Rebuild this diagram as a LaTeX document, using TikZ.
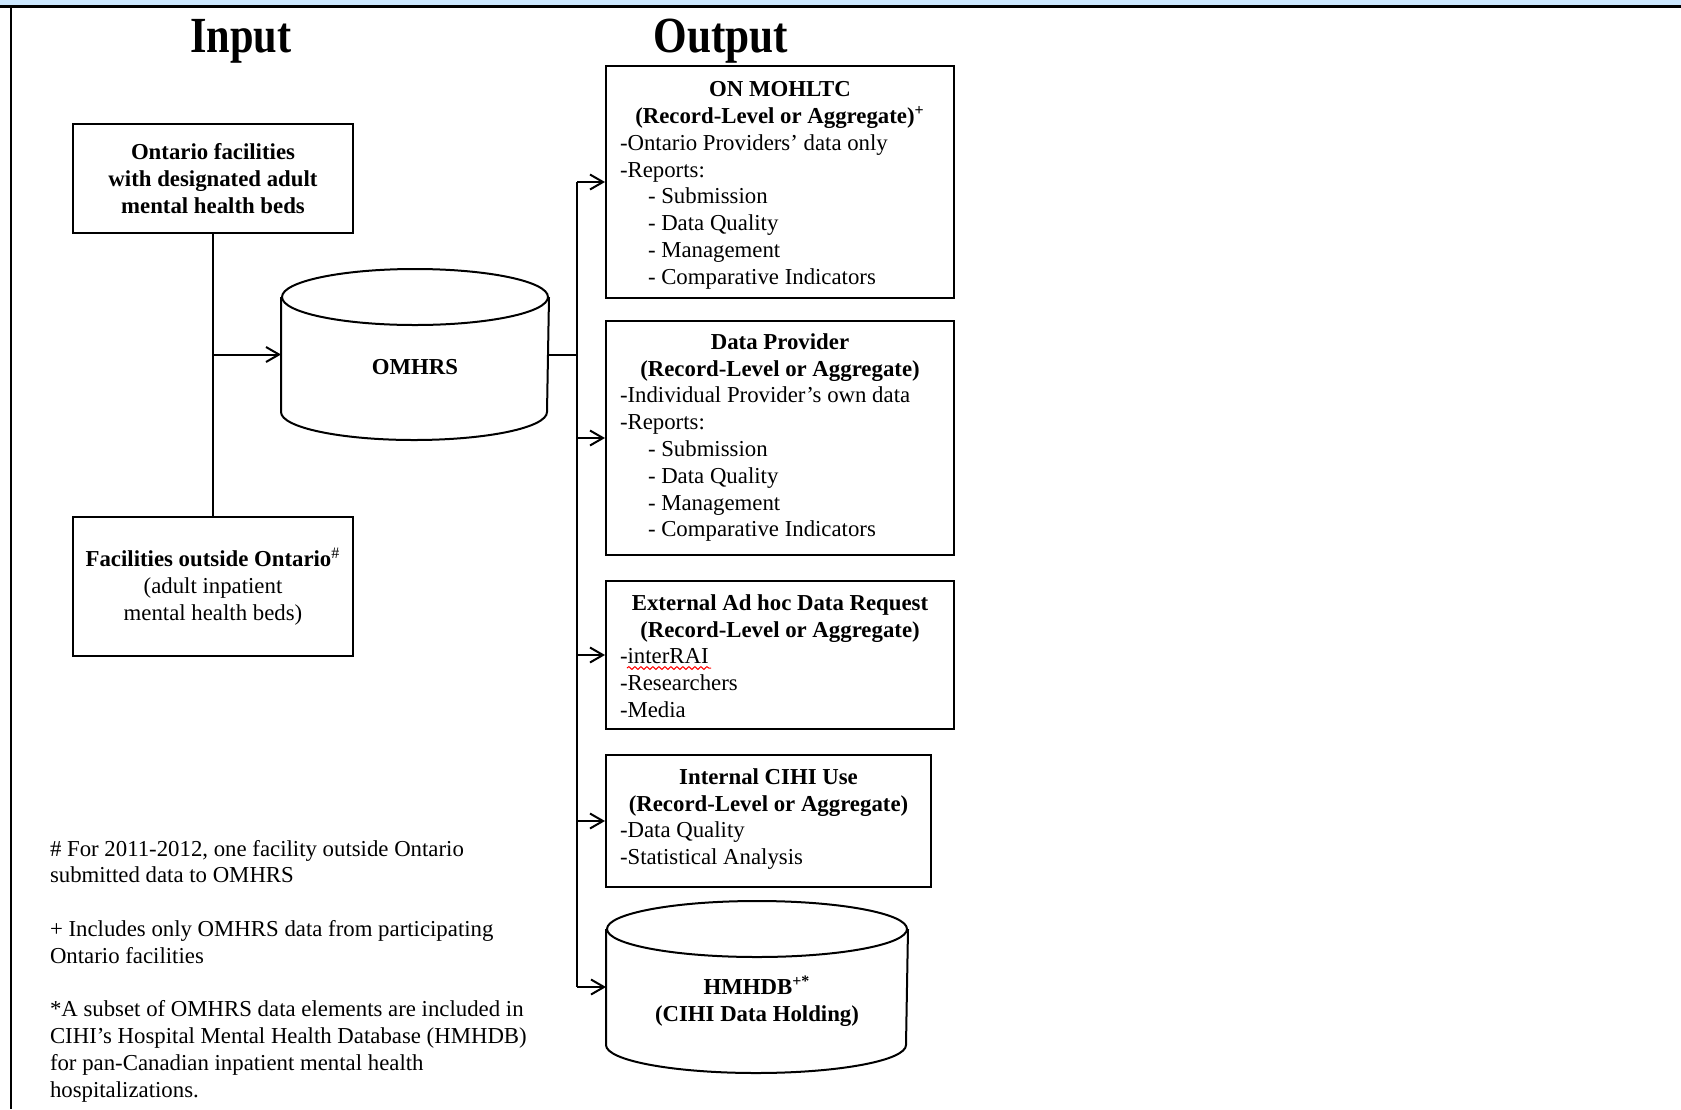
\documentclass[tikz,border=0pt]{standalone}
\usepackage{fontspec}
\setmainfont{Liberation Serif}
\usepackage{graphicx}
\usetikzlibrary{arrows.meta,positioning,decorations.pathmorphing}
\definecolor{bandblue}{RGB}{204,232,255}
\newcommand{\boxhead}[2][160pt]{\makebox[#1]{\bfseries #2}}

\begin{document}
\begin{tikzpicture}[x=0.5pt,y=-0.5pt,>={Straight Barb[length=6.5pt,width=7.5pt]},
line width=1pt,font=\fontsize{11.4}{13.4}\selectfont]
\tikzstyle{inbox}=[draw,rectangle,minimum width=140pt,inner sep=0pt,align=center]
\tikzstyle{outbox}=[draw,rectangle,minimum width=174pt,inner sep=0pt]
\tikzstyle{dbnode}=[rectangle,inner sep=0pt]
\tikzstyle{boxtext}=[anchor=north west,inner sep=0pt,align=left]
\tikzstyle{boldtext}=[font=\fontsize{11.4}{13.4}\selectfont\bfseries,align=center,inner sep=0pt]
\tikzstyle{title}=[anchor=base,inner sep=0pt]

\useasboundingbox (0,0) rectangle (1681,1109);
\fill[bandblue] (0,0) rectangle (1681,5);
\draw[line width=1.5pt] (0,6.5) -- (1681,6.5);
\draw (11,6.5) -- (11,1109);

\node[title] (input)  at (241,52) {\scalebox{0.92}[1.1]{\fontsize{23}{28}\selectfont\bfseries Input}};
\node[title] (output) at (721,52) {\scalebox{0.94}[1.1]{\fontsize{23}{28}\selectfont\bfseries Output}};

% input side
\node[inbox,minimum height=54.5pt,font=\fontsize{11.4}{13.4}\selectfont\bfseries] (ontfac) at (213,178.5)
  {Ontario facilities\\with designated adult\\mental health beds};
\node[inbox,minimum height=69.5pt] (outfac) at (213,586.5)
  {\textbf{Facilities outside Ontario}\textsuperscript{\#}\\(adult inpatient\\mental health beds)};

\node[dbnode,minimum width=133pt,minimum height=84.5pt] (omhrs) at (415,354.5) {};

% output side
\node[outbox,minimum height=116pt] (mohltc) at (780,182) {};
\node[outbox,minimum height=117pt] (provider) at (780,438) {};
\node[outbox,minimum height=74pt] (adhoc) at (780,655) {};
\node[outbox,minimum width=162.5pt,minimum height=66pt] (internal) at (768.5,821) {};
\node[dbnode,minimum width=150pt,minimum height=85pt] (hmhdb) at (757,987) {};

\foreach \db/\rx in {omhrs/66.5,hmhdb/75}{
  \draw ([yshift=-14pt]\db.north) ellipse [x radius=\rx pt,y radius=14pt];
  \draw ([yshift=-14pt]\db.north west) -- ([yshift=14pt]\db.south west)
    arc[start angle=180,end angle=360,x radius=\rx pt,y radius=14pt] -- ([yshift=-14pt]\db.north east);
}
\node[boldtext] (omhrs-t) at ([yshift=-6.5pt]omhrs.center) {OMHRS};
\node[boldtext] (hmhdb-t) at ([yshift=-7pt]hmhdb.center) {HMHDB\textsuperscript{+*}\\(CIHI Data Holding)};

\node[boxtext] (mohltc-t) at ([xshift=7pt,yshift=-7.75pt]mohltc.north west)
  {\boxhead{ON MOHLTC}\\\boxhead{(Record-Level or Aggregate)\textsuperscript{+}}\\
   -Ontario Providers' data only\\-Reports:\\
   \hspace*{14pt}- Submission\\\hspace*{14pt}- Data Quality\\
   \hspace*{14pt}- Management\\\hspace*{14pt}- Comparative Indicators};
\node[boxtext] (provider-t) at ([xshift=7pt,yshift=-6.25pt]provider.north west)
  {\boxhead{Data Provider}\\\boxhead{(Record-Level or Aggregate)}\\
   -Individual Provider's own data\\-Reports:\\
   \hspace*{14pt}- Submission\\\hspace*{14pt}- Data Quality\\
   \hspace*{14pt}- Management\\\hspace*{14pt}- Comparative Indicators};
\node[boxtext] (adhoc-t) at ([xshift=7pt,yshift=-6.75pt]adhoc.north west)
  {\boxhead{External Ad hoc Data Request}\\\boxhead{(Record-Level or Aggregate)}\\
   -interRAI\\-Researchers\\-Media};
\node[boxtext] (internal-t) at ([xshift=7pt,yshift=-6.75pt]internal.north west)
  {\boxhead[148.5pt]{Internal CIHI Use}\\\boxhead[148.5pt]{(Record-Level or Aggregate)}\\
   -Data Quality\\-Statistical Analysis};
\draw[red,line width=0.5pt,decorate,decoration={snake,amplitude=0.7pt,segment length=3pt}]
  (627,668) -- (711,668);

% connectors
\draw (ontfac) -- (outfac);
\draw[->] (ontfac.south |- omhrs.west) -- (omhrs.west);
\coordinate (trunk) at (577,182);
\draw (omhrs.east) -- (omhrs.east -| trunk);
\draw[line width=1.4pt] (trunk |- mohltc.west) -- (trunk |- hmhdb.west);
\foreach \n in {mohltc,provider,adhoc,internal,hmhdb}
  \draw[->] (trunk |- \n.west) -- (\n.west);

% notes
\node[boxtext] (notes) at (49,839)
  {\# For 2011-2012, one facility outside Ontario\\submitted data to OMHRS\\[13.4pt]
   + Includes only OMHRS data from participating\\Ontario facilities\\[13.4pt]
   *A subset of OMHRS data elements are included in\\CIHI's Hospital Mental Health Database (HMHDB)\\
   for pan-Canadian inpatient mental health\\hospitalizations.};
\end{tikzpicture}
\end{document}
